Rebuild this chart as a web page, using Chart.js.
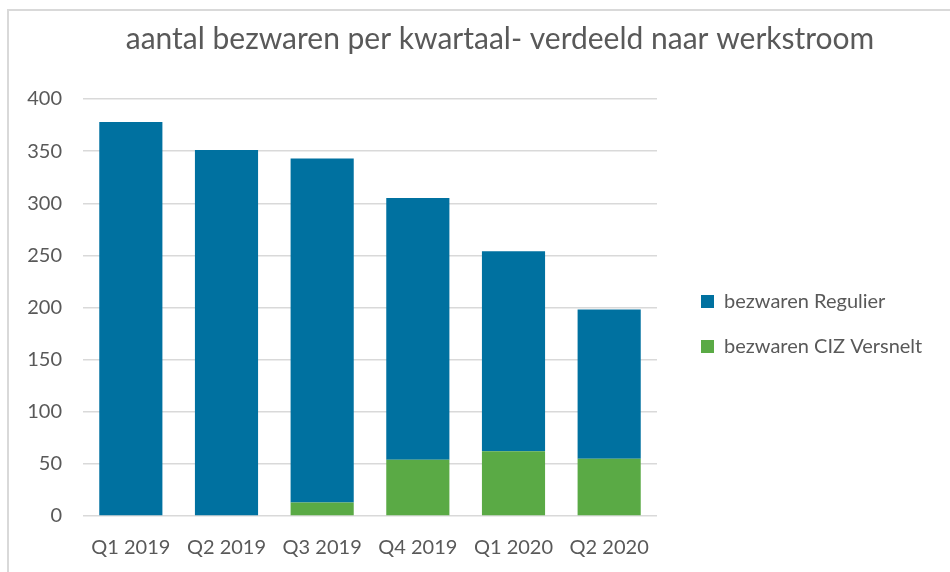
<!DOCTYPE html>
<html>
<head>
<meta charset="utf-8">
<script src="https://cdn.jsdelivr.net/npm/chart.js@4/dist/chart.umd.min.js"></script>
<style>
    body { margin: 0; background: #fff; overflow: hidden; }
    .frame { position: absolute; left: 7px; top: 9px; width: 980px; height: 620px; border: 2px solid #d9d9d9; }
    #wrap { position: absolute; left: 0; top: 0; width: 1000px; height: 572px; }
</style>
</head>
<body>
<div class="frame"></div>
<div id="wrap"><canvas id="chart"></canvas></div>
<script>
// Gegevens
const kwartalen = ['Q1 2019', 'Q2 2019', 'Q3 2019', 'Q4 2019', 'Q1 2020', 'Q2 2020'];
const bezwarenRegulier = [378, 351, 330, 251, 192, 143];
const bezwarenCIZ = [0, 0, 13, 54, 62, 55];
const yTicks = [0, 50, 100, 150, 200, 250, 300, 350, 400];

const fontFamily = 'Lato, "Open Sans", sans-serif';
const textColor = '#595959';

// Legenda een vaste breedte geven en op de juiste plek zetten
const legendPlacement = {
    id: 'legendPlacement',
    beforeInit(chart) {
        const origFit = chart.legend.fit;
        chart.legend.fit = function () {
            origFit.call(this);
            this.width = 343;
        };
    },
    afterLayout(chart) {
        const lg = chart.legend;
        lg.left += 19;
        lg.right += 19;
        lg.top += 38;
        lg.bottom += 38;
    }
};

document.addEventListener('DOMContentLoaded', () => {
    const ctx = document.getElementById('chart').getContext('2d');
    new Chart(ctx, {
        type: 'bar',
        data: {
            labels: kwartalen,
            datasets: [
                {
                    label: 'bezwaren CIZ Versnelt',
                    data: bezwarenCIZ,
                    backgroundColor: '#5aaa45'
                },
                {
                    label: 'bezwaren Regulier',
                    data: bezwarenRegulier,
                    backgroundColor: '#0071a0'
                }
            ]
        },
        options: {
            responsive: true,
            maintainAspectRatio: false,
            animation: false,
            layout: { padding: 0 },
            datasets: { bar: { barPercentage: 0.66, categoryPercentage: 1 } },
            plugins: {
                title: {
                    display: true,
                    text: 'aantal bezwaren per kwartaal- verdeeld naar werkstroom',
                    color: textColor,
                    font: { family: fontFamily, size: 30, weight: 'normal' },
                    padding: { top: 21, bottom: 42 }
                },
                legend: {
                    position: 'right',
                    reverse: true,
                    labels: {
                        color: textColor,
                        font: { family: fontFamily, size: 20 },
                        boxWidth: 13,
                        boxHeight: 13,
                        padding: 25
                    }
                },
                tooltip: { enabled: false }
            },
            scales: {
                x: {
                    stacked: true,
                    afterFit(axis) {
                        axis.height = 56;
                    },
                    grid: { display: false, drawTicks: false },
                    border: { display: false },
                    ticks: {
                        color: textColor,
                        font: { family: fontFamily, size: 20 },
                        padding: 20,
                        maxRotation: 0
                    }
                },
                y: {
                    stacked: true,
                    min: 0,
                    max: 400,
                    afterBuildTicks(axis) {
                        axis.ticks = yTicks.map(v => ({ value: v }));
                    },
                    afterFit(axis) {
                        axis.width = 83;
                    },
                    grid: { color: '#d9d9d9', lineWidth: 1.5, drawTicks: false },
                    border: { display: false },
                    ticks: {
                        color: textColor,
                        font: { family: fontFamily, size: 20 },
                        padding: 21
                    }
                }
            }
        },
        plugins: [legendPlacement]
    });
});
</script>
</body>
</html>
